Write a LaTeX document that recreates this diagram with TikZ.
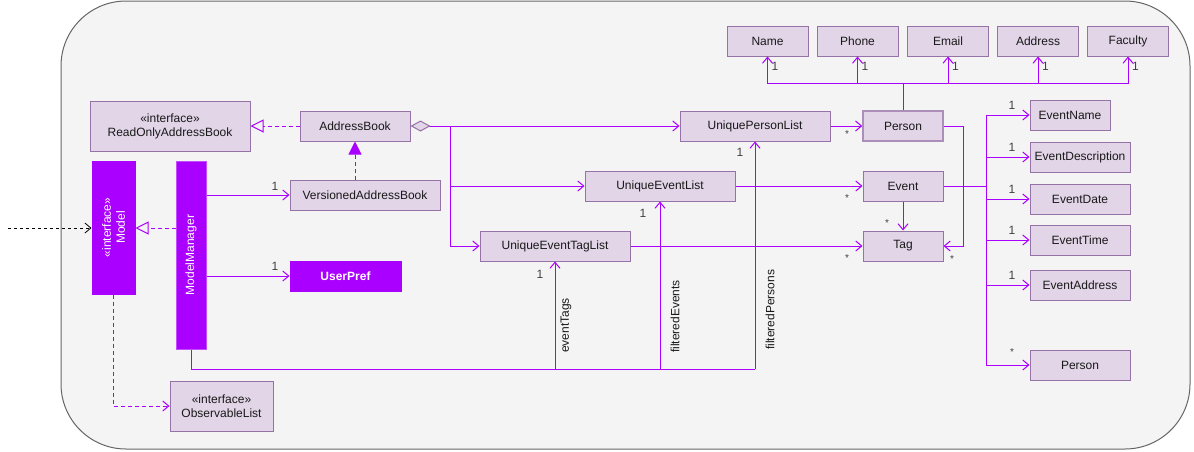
\documentclass[tikz,border=0pt]{standalone}
\usepackage{fontspec}
\setmainfont{Liberation Sans}
\usetikzlibrary{arrows.meta}
\definecolor{boxfill}{HTML}{E1D5E7}
\definecolor{boxline}{HTML}{9673A6}
\definecolor{linkpurple}{HTML}{AA00FF}
\definecolor{panelfill}{HTML}{F4F4F4}
\definecolor{panelline}{HTML}{666666}
\definecolor{labelgray}{HTML}{404040}
\begin{document}
\begin{tikzpicture}[x=1pt, y=-1pt,
  cls/.style={draw=boxline, fill=boxfill, line width=1pt, inner sep=0pt,
    text=black!90, font=\fontsize{12}{14}\selectfont, align=center},
  solidcls/.style={draw=linkpurple, fill=linkpurple, line width=1pt, inner sep=0pt,
    text=white, font=\fontsize{12}{14}\selectfont, align=center},
  link/.style={draw=linkpurple, line width=1pt},
  assoc/.style={link, -{Straight Barb[length=6pt, width=10pt, line width=1pt]}},
  realize/.style={link, dash pattern=on 4pt off 3pt,
    -{Triangle[open, length=13pt, width=13pt, line width=1pt]}},
  inherit/.style={link, dash pattern=on 4pt off 3pt,
    -{Triangle[length=13pt, width=13pt]}},
  usage/.style={link, dash pattern=on 4pt off 3pt,
    -{Straight Barb[length=6pt, width=10pt, line width=1pt]}},
  mult/.style={inner sep=0pt, text=labelgray, font=\fontsize{12}{14}\selectfont},
  many/.style={inner sep=0pt, text=labelgray, font=\fontsize{10}{12}\selectfont},
  role/.style={inner sep=0pt, text=black!90, font=\fontsize{12}{14}\selectfont,
    rotate=90, anchor=west}
]
\useasboundingbox (0,0) rectangle (1194,451);
% panel
\draw[fill=panelfill, draw=panelline, line width=1pt, rounded corners=65pt]
  (61,1) rectangle (1190,449);

% model classes (the two upright bars are rotated: north = left side, south = right side,
% east = top, west = bottom)
\node[cls, minimum width=160pt, minimum height=50pt] (rob) at (170,126)
  {«interface»\\ReadOnlyAddressBook};
\node[solidcls, rotate=90, minimum width=133pt, minimum height=43pt] (model) at (113.5,227.5)
  {«interface»\\Model};
\node[solidcls, draw=linkpurple!70, rotate=90, minimum width=188pt, minimum height=30pt] (mm) at (191,255)
  {ModelManager};
\node[cls, minimum width=110pt, minimum height=30pt] (ab) at (355,126) {AddressBook};
\node[cls, minimum width=150pt, minimum height=30pt] (vab) at (365,195) {VersionedAddressBook};
\node[solidcls, minimum width=111pt, minimum height=30pt, font=\fontsize{12}{14}\selectfont\bfseries] (upref) at (345.5,276) {UserPref};
\node[cls, minimum width=103pt, minimum height=50pt] (obs) at (221.5,406)
  {«interface»\\ObservableList};

\node[cls, minimum width=150pt, minimum height=30pt] (upl) at (755,126) {UniquePersonList};
\node[cls, minimum width=150pt, minimum height=30pt] (uel) at (660,186) {UniqueEventList};
\node[cls, minimum width=150pt, minimum height=30pt] (uetl) at (555,246) {UniqueEventTagList};

\node[cls, line width=1.5pt, draw=boxline!80, minimum width=80pt, minimum height=30pt] (person) at (903,126) {Person};
\node[cls, minimum width=80pt, minimum height=30pt] (event) at (903,186) {Event};
\node[cls, minimum width=80pt, minimum height=30pt] (tag) at (903,246) {Tag};

\node[cls, minimum width=81pt, minimum height=30pt] (name) at (767.5,41) {Name};
\node[cls, minimum width=81pt, minimum height=30pt] (phone) at (857.5,41) {Phone};
\node[cls, minimum width=81pt, minimum height=30pt] (email) at (948,41) {Email};
\node[cls, minimum width=81pt, minimum height=30pt] (address) at (1038,41) {Address};
\node[cls, minimum width=81pt, minimum height=30pt] (faculty) at (1128,41) {Faculty};

\node[cls, minimum width=80pt, minimum height=30pt] (evname) at (1070,115) {EventName};
\node[cls, minimum width=100pt, minimum height=30pt] (evdesc) at (1080,157) {EventDescription};
\node[cls, minimum width=100pt, minimum height=30pt] (evdate) at (1080,199) {EventDate};
\node[cls, minimum width=100pt, minimum height=30pt] (evtime) at (1080,240) {EventTime};
\node[cls, minimum width=100pt, minimum height=30pt] (evaddr) at (1080,285) {EventAddress};
\node[cls, minimum width=100pt, minimum height=30pt] (evperson) at (1080,365) {Person};

% outside dependency onto Model
\coordinate (ext) at (8,228);
\draw[black, line width=0.8pt, dash pattern=on 3pt off 3pt,
  -{Straight Barb[length=6pt, width=10pt, line width=0.8pt]}] (ext) -- (ext -| model.north);

% realizations and inheritance
\draw[realize] (mm.north |- ext) -- (model.south |- ext);
\draw[realize] (ab.west) -- (rob.east);
\draw[inherit] (ab.south |- vab.north) -- (ab.south);
\draw[usage] (model.west) |- (obs.west);

% ModelManager associations
\draw[assoc] (mm.south |- vab.west) -- (vab.west);
\draw[assoc] (mm.south |- upref.west) -- (upref.west);
\node[mult] at (275,186) {1};
\node[mult] at (275,266) {1};

% AddressBook aggregation
\coordinate (br) at (450,126);
\draw[link, {Diamond[length=20pt, width=11pt, fill=boxfill, color=boxline, line width=1pt]}-{Straight Barb[length=6pt, width=10pt, line width=1pt]}]
  (ab.east) -- (upl.west);
\draw[assoc] (br) |- (uel.west);
\draw[assoc] (br) |- (uetl.west);

% lists to elements
\draw[assoc] (upl.east) -- (person.west);
\draw[assoc] (uel.east) -- (event.west);
\draw[assoc] (uetl.east) -- (tag.west);
\node[many] at (847,134) {*};
\node[many] at (847,198) {*};
\node[many] at (847,258) {*};

% tags of events and persons
\draw[assoc] (event.south) -- (tag.north);
\node[many] at (887,223) {*};
\draw[assoc] (person.east) -- ++(20,0) |- (tag.east);
\node[many] at (952,259) {*};

% person attributes
\coordinate (pj) at (903,83);
\draw[link] (person.north) -- (pj);
\foreach \n in {name,phone,email,address,faculty}{
  \draw[assoc] (pj) -| (\n.south);
  \node[mult, anchor=west] at ([xshift=4pt, yshift=-10pt]\n.south) {1};
}

% event attributes
\coordinate (ej) at (986,186);
\draw[link] (event.east) -- (ej);
\foreach \n/\m in {evname/1,evdesc/1,evdate/1,evtime/1,evaddr/1}{
  \draw[assoc] (ej) |- (\n.west);
  \node[mult] at ([yshift=10pt] ej |- \n.west) [xshift=26pt] {\m};
}
\draw[assoc] (ej) |- (evperson.west);
\node[many] at ([xshift=26pt, yshift=13pt] ej |- evperson.west) {*};

% filtered lists held by ModelManager
\coordinate (mb) at (191,369);
\draw[link] (mm.west) -- (mb) -- (mb -| upl.south);
\draw[assoc] (uetl.south |- mb) -- (uetl.south);
\draw[assoc] (uel.south |- mb) -- (uel.south);
\draw[assoc] (upl.south |- mb) -- (upl.south);
\node[mult] at (540,274) {1};
\node[mult] at (643,213) {1};
\node[mult] at (740,152) {1};
\node[role] at (566,353) {eventTags};
\node[role] at (675,353) {filteredEvents};
\node[role] at (770,350) {filteredPersons};
\end{tikzpicture}
\end{document}
